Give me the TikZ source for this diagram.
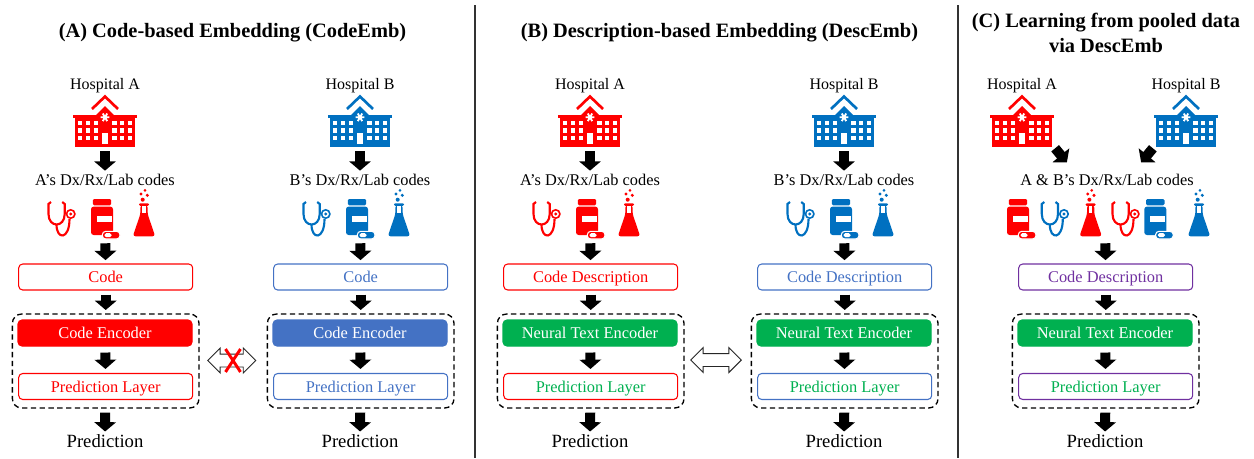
\documentclass[tikz,border=0pt]{standalone}
\usepackage{fontspec}
\setmainfont{Liberation Serif}
\usepackage{xcolor}
\usepackage{tikz}
\usetikzlibrary{arrows.meta,shapes.arrows,shapes.misc}

\definecolor{hospred}{HTML}{FF0000}
\definecolor{hospblue}{HTML}{0070C0}
\definecolor{boxblue}{HTML}{4472C4}
\definecolor{encgreen}{HTML}{00B050}
\definecolor{poolpurple}{HTML}{7030A0}

\tikzset{
  paneltitle/.style={font=\fontsize{15.3}{18.75}\selectfont\bfseries,align=center,inner sep=0pt},
  hosplabel/.style={font=\fontsize{12}{14}\selectfont,inner sep=0pt},
  codelabel/.style={font=\fontsize{12.25}{15}\selectfont,inner sep=0pt},
  outlabel/.style={font=\fontsize{14}{16}\selectfont,inner sep=0pt},
  iconbox/.style={minimum width=48pt,minimum height=39pt,inner sep=0pt},
  iconrow/.style={minimum width=80pt,minimum height=36.75pt,inner sep=0pt},
  codebox/.style={font=\fontsize{12.3}{15}\selectfont,draw,line width=.8pt,rounded corners=3pt,minimum width=130.5pt,minimum height=19.5pt,inner sep=0pt,text depth=0pt},
  encbox/.style={codebox,text=white},
  stackbox/.style={draw,line width=1pt,dash pattern=on 4pt off 2.6pt,rounded corners=7pt,minimum width=140pt,minimum height=70.5pt,inner sep=0pt},
  blockarrow/.style={line width=7.5pt,-{Triangle[width=16pt,length=7pt]},shorten <=3pt,shorten >=2.5pt},
  swaparrow/.style={double arrow,draw=black!85,fill=white,line width=.7pt,minimum height=36pt,double arrow head extend=4.5pt,inner xsep=0pt,inner ysep=4.5pt},
  nocross/.style={cross out,draw=hospred,line width=2.2pt,minimum width=9pt,minimum height=15pt,inner sep=0pt},
  panelrule/.style={line width=1pt,black!80}
}

\newcommand{\hospitalicon}[3]{
  \begin{scope}[shift={(#1,#2)},color=#3]
  \fill (-32,19.5) rectangle (32,23);
  \fill (-30,23) rectangle (30,52);
  \fill (-9,20) -- (0,11) -- (9,20) -- cycle;
  \draw[line width=2pt] (-13,14) -- (0,1.5) -- (13,14);
  \foreach \wx in {-25,-17,-9.3,9.3,17,25}
    \foreach \wy in {28,35.3,43}
      \fill[white] (\wx-2.2,\wy-2.2) rectangle (\wx+2.2,\wy+2.2);
  \fill[white] (-3.3,38.3) rectangle (3.3,49);
  \draw[white,line width=1.4pt] (-4.4,22.3) -- (4.4,22.3) (-2.2,18.5) -- (2.2,26.1) (2.2,18.5) -- (-2.2,26.1);
  \end{scope}
}
\newcommand{\stethoicon}[3]{
  \begin{scope}[shift={(#1,#2)},color=#3]
  \draw[line width=1.6pt] (-10.5,12) -- (-13,14) -- (-13,24) .. controls (-13,38) and (3.2,38) .. (3.2,24) -- (3.2,14) -- (0.7,12);
  \draw[line width=1.6pt] (-5,34.5) .. controls (-5,50) and (8,50) .. (8,29);
  \fill (9.2,24) circle[radius=3.8pt];
  \fill[white] (9.2,24) circle[radius=2.4pt];
  \fill (9.2,24) circle[radius=1.2pt];
  \end{scope}
}
\newcommand{\bottleicon}[3]{
  \begin{scope}[shift={(#1,#2)},color=#3]
  \fill[rounded corners=1pt] (-9.2,9) rectangle (9.2,15.3);
  \fill[rounded corners=2pt] (-11,16.6) rectangle (11,45);
  \fill[white] (-5.3,26) rectangle (9.8,32);
  \draw[white,line width=.8pt,fill=#3,rounded corners=2.6pt] (0.3,41.3) rectangle (18,49);
  \fill[white,rounded corners=1.2pt] (2.5,43.2) rectangle (9.5,47.1);
  \end{scope}
}
\newcommand{\flaskicon}[3]{
  \begin{scope}[shift={(#1,#2)},color=#3]
  \fill[rounded corners=.8pt] (-5,13.4) rectangle (5,15.8);
  \fill[rounded corners=2pt] (-3.6,15) -- (-3.6,24) -- (-11.2,46.3) -- (11.2,46.3) -- (3.6,24) -- (3.6,15) -- cycle;
  \fill[white] (-1.7,15.8) -- (-1.7,23) -- (1.7,23) -- (1.7,15.8) -- cycle;
  \fill (1,0.4) circle[radius=1.1pt];
  \fill (-3,4) circle[radius=1.2pt];
  \fill (3.3,5.3) circle[radius=1.3pt];
  \fill (-1.3,9.7) circle[radius=1.5pt];
  \end{scope}
}
% one hospital with its label, its codes and its three icons
\newcommand{\hospitalcolumn}[4]{
  \node[hosplabel] (hosp#1) at (#2,86) {Hospital #3};
  \hospitalicon{#2}{95}{#4}
  \node[iconbox] (bldg#1) at (#2,121) {};
  \node[codelabel] (codes#1) at (#2,180) {#3’s Dx/Rx/Lab codes};
  \stethoicon{#2-43.5}{190}{#4}
  \bottleicon{#2-3}{190}{#4}
  \flaskicon{#2+39}{190}{#4}
  \node[iconrow] (icons#1) at (#2,214.5) {};
  \draw[blockarrow] (bldg#1) -- (codes#1);
}
% code box, dashed model box and prediction
\newcommand{\modelstack}[7]{
  \node[codebox,draw=#3,text=#3] (code#1) at (#2+0.7,277) {#4};
  \node[stackbox] (stack#1) at (#2+0.7,361) {};
  \node[encbox,draw=#6,fill=#6] (enc#1) at (#2,333) {#5};
  \node[codebox,draw=#3,text=#7] (layer#1) at (#2+0.7,386.5) {Prediction Layer};
  \node[outlabel] (pred#1) at (#2,441) {Prediction};
  \draw[blockarrow] (icons#1) -- (code#1);
  \draw[blockarrow] (code#1) -- (stack#1);
  \draw[blockarrow,shorten <=4.5pt,shorten >=3pt] (enc#1) -- (layer#1);
  \draw[blockarrow,shorten >=2pt] (stack#1) -- (pred#1);
}

\begin{document}
\begin{tikzpicture}[x=.75pt,y=-.75pt]
\useasboundingbox (0,0) rectangle (1254,458);
% panel titles
\node[paneltitle] (titleA) at (232.5,32.5) {(A) Code-based Embedding (CodeEmb)};
\node[paneltitle] (titleB) at (719.5,32.5) {(B) Description-based Embedding (DescEmb)};
\node[paneltitle] (titleC) at (1106,32.5) {(C) Learning from pooled data\\via DescEmb};
\draw[panelrule] (475,5) -- (475,458);
\draw[panelrule] (958,5) -- (958,458);
% panel A
\hospitalcolumn{AA}{105}{A}{hospred}
\modelstack{AA}{105}{hospred}{Code}{Code Encoder}{hospred}{hospred}
\hospitalcolumn{AB}{360}{B}{hospblue}
\modelstack{AB}{360}{boxblue}{Code}{Code Encoder}{boxblue}{boxblue}
\node[swaparrow] (swapA) at (231.7,360.5) {};
\node[nocross] (crossA) at (233,360.5) {};
% panel B
\hospitalcolumn{BA}{590}{A}{hospred}
\modelstack{BA}{590}{hospred}{Code Description}{Neural Text Encoder}{encgreen}{encgreen}
\hospitalcolumn{BB}{844}{B}{hospblue}
\modelstack{BB}{844}{boxblue}{Code Description}{Neural Text Encoder}{encgreen}{encgreen}
\node[swaparrow,minimum height=38pt] (swapB) at (716,360) {};
% panel C
\node[hosplabel] (hospCA) at (1022,86) {Hospital A};
\node[hosplabel] (hospCB) at (1186,86) {Hospital B};
\hospitalicon{1022}{95}{hospred}
\hospitalicon{1186}{95}{hospblue}
\node[iconbox] (bldgCA) at (1022,121) {};
\node[iconbox] (bldgCB) at (1186,121) {};
\node[codelabel] (codesC) at (1107,180) {A \& B’s Dx/Rx/Lab codes};
\coordinate (mergeL) at (1069,165);
\coordinate (mergeR) at (1139,165);
\draw[blockarrow,shorten <=1pt] (bldgCA.south east) -- (mergeL);
\draw[blockarrow,shorten <=1pt] (bldgCB.south west) -- (mergeR);
\bottleicon{1018}{190}{hospred}
\stethoicon{1054.8}{190}{hospblue}
\flaskicon{1090.7}{190}{hospred}
\stethoicon{1125.5}{190}{hospred}
\bottleicon{1155.3}{190}{hospblue}
\flaskicon{1199}{190}{hospblue}
\node[iconrow] (iconsC) at (1105,214.5) {};
\modelstack{C}{1105}{poolpurple}{Code Description}{Neural Text Encoder}{encgreen}{encgreen}
\end{tikzpicture}
\end{document}
